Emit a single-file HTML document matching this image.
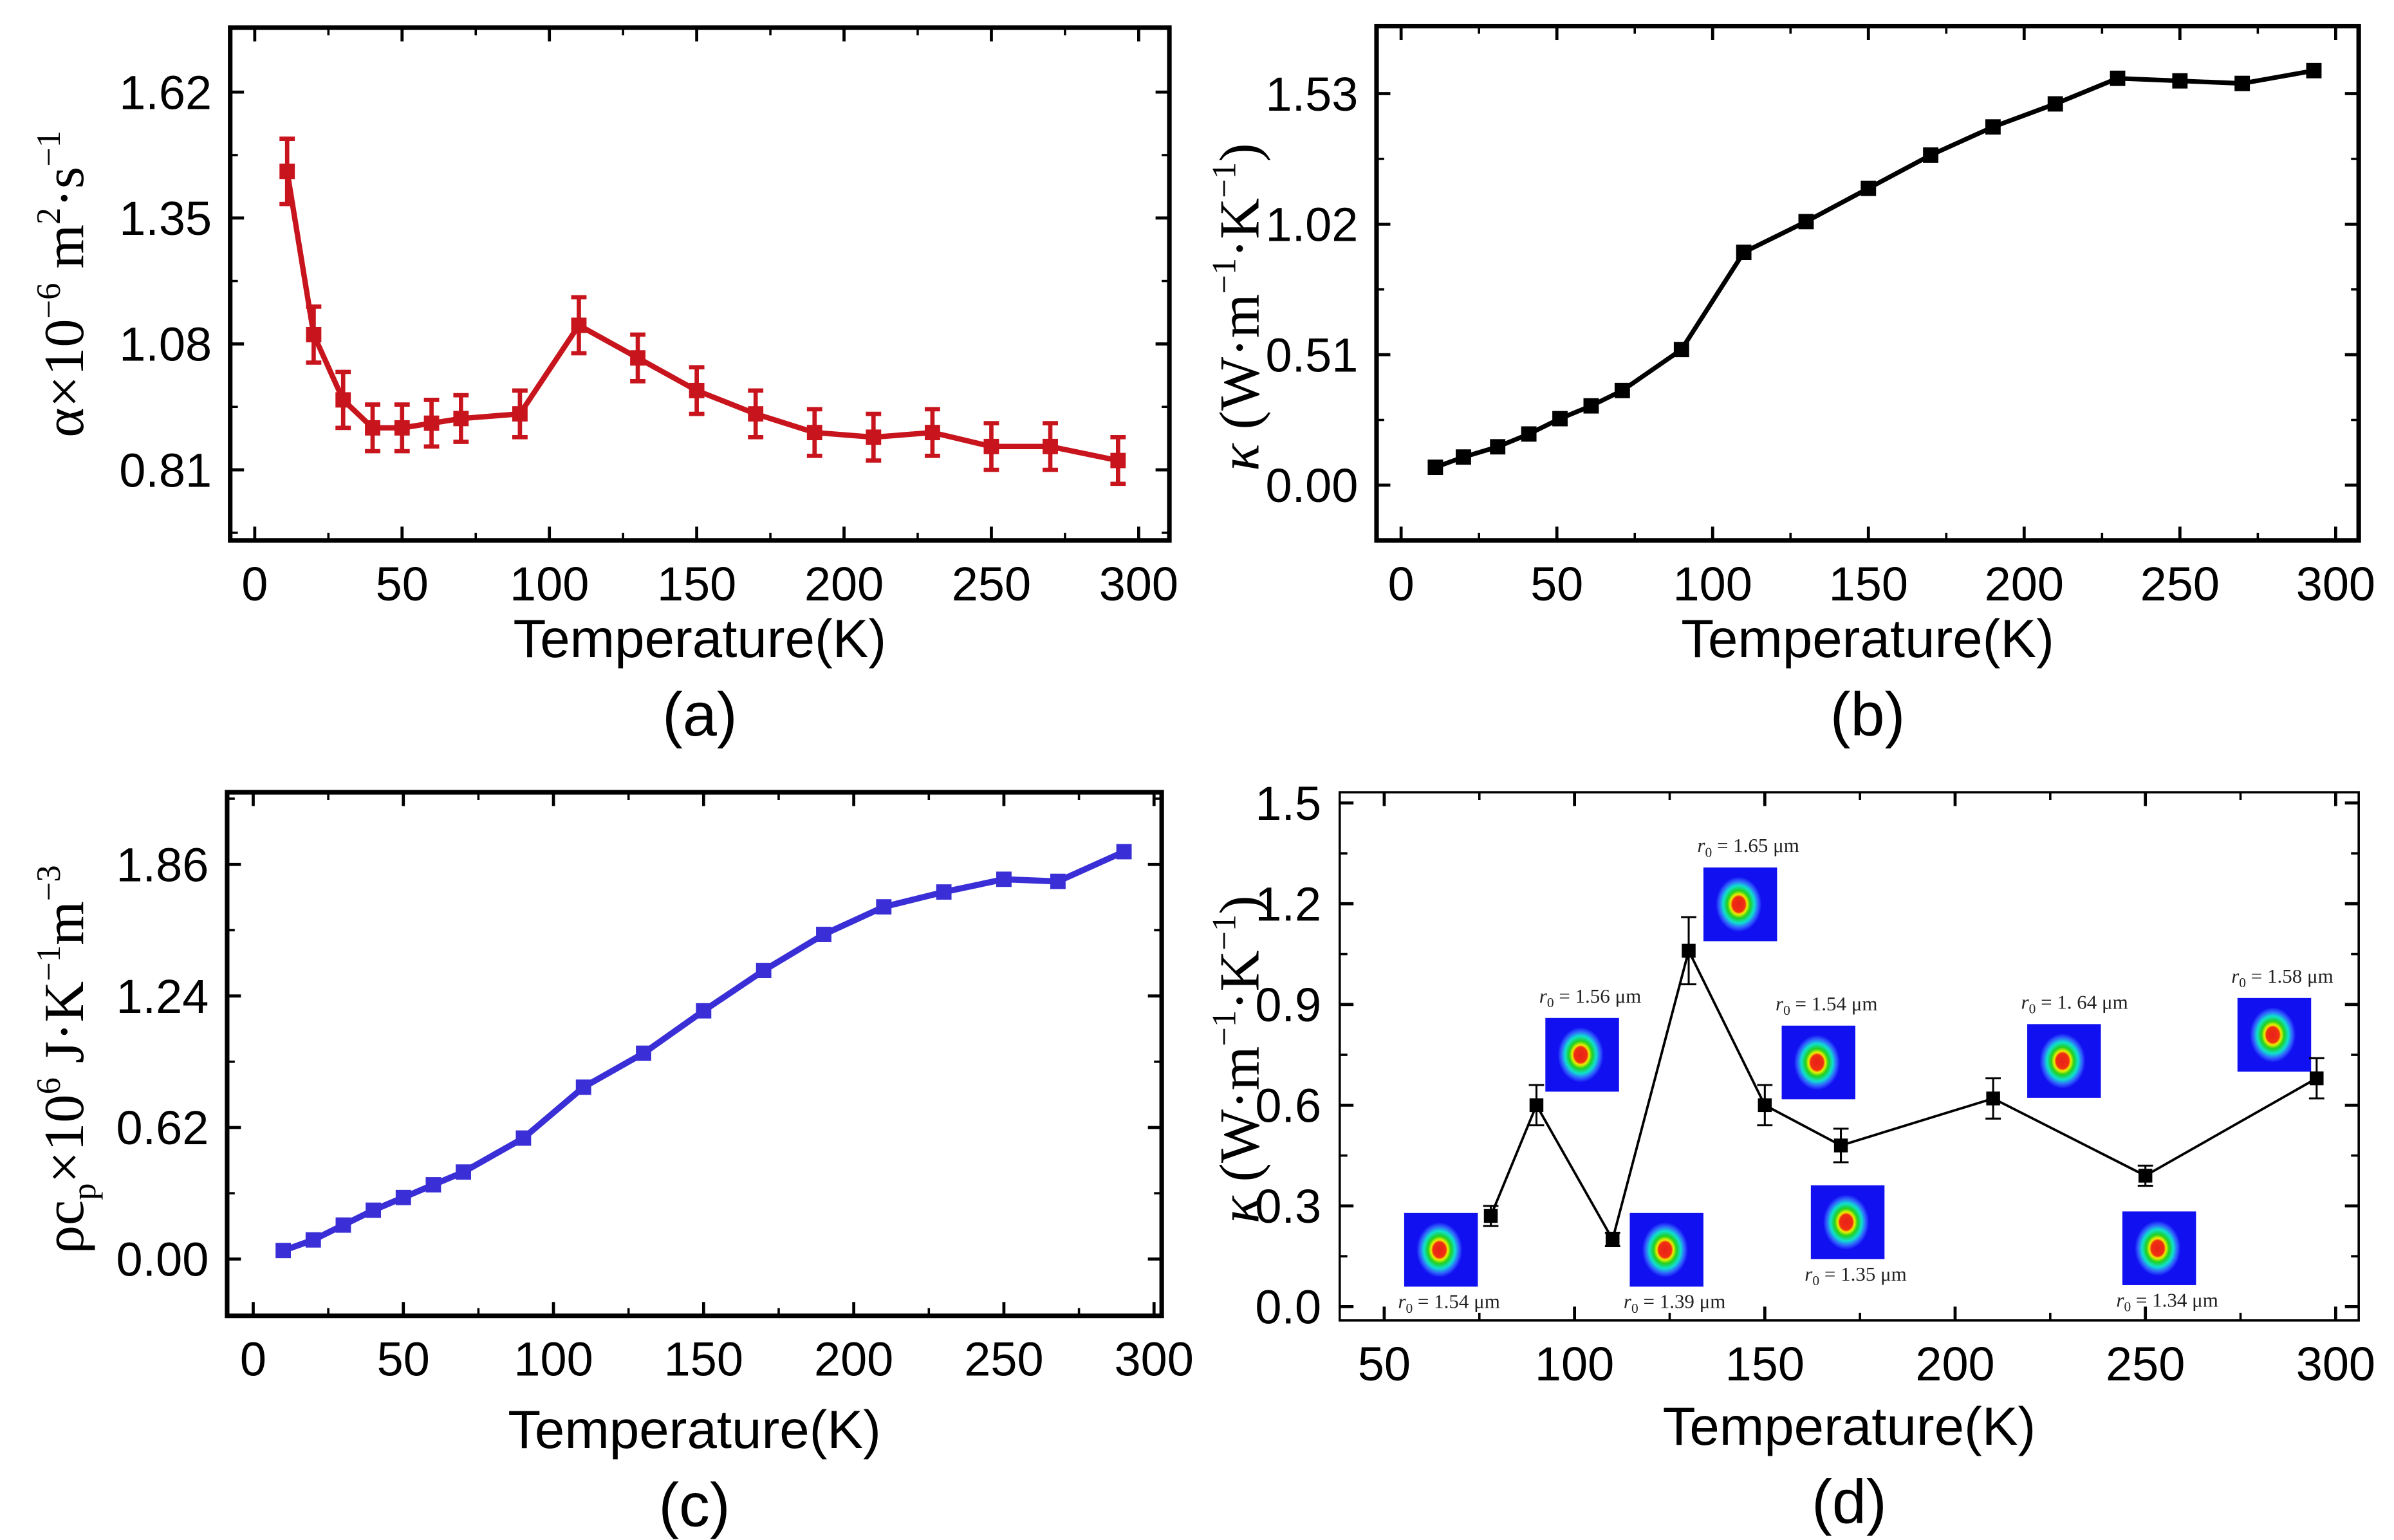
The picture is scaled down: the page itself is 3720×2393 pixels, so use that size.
<!DOCTYPE html>
<html><head><meta charset="utf-8">
<style>
html,body{margin:0;padding:0;background:#fff;}
svg{display:block;}
text{font-family:"Liberation Sans",Arial,sans-serif;}
.serif{font-family:"Liberation Serif","Times New Roman",serif;}
</style></head>
<body>
<svg id="fig" width="3720" height="2393" viewBox="0 0 1560 1003" preserveAspectRatio="none" xmlns="http://www.w3.org/2000/svg">
<defs>
<radialGradient id="spot" cx="50%" cy="50%" r="50%">
<stop offset="0" stop-color="#e8201a"/>
<stop offset="0.28" stop-color="#f03010"/>
<stop offset="0.36" stop-color="#f0f000"/>
<stop offset="0.5" stop-color="#20d020"/>
<stop offset="0.68" stop-color="#10e0d0"/>
<stop offset="0.85" stop-color="#3060ff"/>
<stop offset="1" stop-color="#1010f0"/>
</radialGradient>
</defs>
<g id="root"></g>
</svg>
<script>
// ---- Panel (a) data ----
const aTemps = [11,20,30,40,50,60,70,90,110,130,150,170,190,210,230,250,270,293];
const aVals  = [1.45,1.10,0.96,0.90,0.90,0.91,0.92,0.93,1.12,1.05,0.98,0.93,0.89,0.88,0.89,0.86,0.86,0.83];
const aErr   = [0.07,0.06,0.06,0.05,0.05,0.05,0.05,0.05,0.06,0.05,0.05,0.05,0.05,0.05,0.05,0.05,0.05,0.05];
const aYTicks = [0.81,1.08,1.35,1.62];
// ---- Panel (b) data ----
const bTemps = [11,20,31,41,51,61,71,90,110,130,150,170,190,210,230,250,270,293];
const bVals  = [0.07,0.11,0.15,0.20,0.26,0.31,0.37,0.53,0.91,1.03,1.16,1.29,1.40,1.49,1.59,1.58,1.57,1.62];
const bYTicks = [0.00,0.51,1.02,1.53];
// ---- Panel (c) data ----
const cTemps = [10,20,30,40,50,60,70,90,110,130,150,170,190,210,230,250,268,290];
const cVals  = [0.04,0.09,0.16,0.23,0.29,0.35,0.41,0.57,0.81,0.97,1.17,1.36,1.53,1.66,1.73,1.79,1.78,1.92];
const cYTicks = [0.00,0.62,1.24,1.86];
// ---- Panel (d) data ----
const dTemps = [78,90,110,130,150,170,210,250,295];
const dVals  = [0.27,0.60,0.20,1.06,0.60,0.48,0.62,0.39,0.68];
const dErr   = [0.03,0.06,0.02,0.10,0.06,0.05,0.06,0.03,0.06];
const dYTicks = [0.0,0.3,0.6,0.9,1.2,1.5];
const dInsetLabels = ["1.54","1.56","1.39","1.65","1.54","1.35","1. 64","1.34","1.58"];
const dInsetBoxes = [[915,790,"below"],[1007,663,"above"],[1062,790,"below"],[1110,565,"above"],[1161,668,"above"],[1180,772,"below"],[1321,667,"above"],[1383,789,"below"],[1458,650,"above"]];
const xTicks300 = [0,50,100,150,200,250,300];
const xTicksD = [50,100,150,200,250,300];

const NS="http://www.w3.org/2000/svg";
const root=document.getElementById('root');
function mk(tag,attrs,parent){const e=document.createElementNS(NS,tag);for(const k in attrs)e.setAttribute(k,attrs[k]);(parent||root).appendChild(e);return e;}
function lin(d0,d1,r0,r1){return v=>r0+(v-d0)*(r1-r0)/(d1-d0);}

function panel(o){
  const g=mk('g',{});
  
  
  const fr=mk('rect',{x:o.L,y:o.T,width:o.R-o.L,height:o.B-o.T,fill:'none',stroke:'#000','stroke-width':o.frameW||3},g);
  
  
  const xs=o.xs, ys=o.ys;
  const step=o.xTicks[1]-o.xTicks[0];
  for(let i=0;i<o.xTicks.length;i++){
    const v=o.xTicks[i], px=xs(v);
    mk('line',{x1:px,y1:o.B,x2:px,y2:o.B-9,stroke:'#000','stroke-width':2},g);
    mk('line',{x1:px,y1:o.T,x2:px,y2:o.T+9,stroke:'#000','stroke-width':2},g);
    const t=mk('text',{x:px,y:o.B+39,'text-anchor':'middle','font-size':31,fill:'#000'},g);
    t.textContent=v;
    
    
    if(i<o.xTicks.length-1){const m=xs(v+step/2);
      mk('line',{x1:m,y1:o.B,x2:m,y2:o.B-5,stroke:'#000','stroke-width':1.5},g);
      mk('line',{x1:m,y1:o.T,x2:m,y2:o.T+5,stroke:'#000','stroke-width':1.5},g);}
  }
  const ystep=o.yTicks[1]-o.yTicks[0];
  for(let i=0;i<o.yTicks.length;i++){
    const v=o.yTicks[i], py=ys(v);
    mk('line',{x1:o.L,y1:py,x2:o.L+9,y2:py,stroke:'#000','stroke-width':2},g);
    mk('line',{x1:o.R,y1:py,x2:o.R-9,y2:py,stroke:'#000','stroke-width':2},g);
    const t=mk('text',{x:o.L-12,y:py+11,'text-anchor':'end','font-size':31,fill:'#000'},g);
    t.textContent=v.toFixed(o.yDec);
    
    
    for(const m of [v-ystep/2,v+ystep/2]){const pm=ys(m); if(pm>o.T+4&&pm<o.B-4&&(i==0||m>v)){
      mk('line',{x1:o.L,y1:pm,x2:o.L+5,y2:pm,stroke:'#000','stroke-width':1.5},g);
      mk('line',{x1:o.R,y1:pm,x2:o.R-5,y2:pm,stroke:'#000','stroke-width':1.5},g);}}
  }
  const xt=mk('text',{x:(o.L+o.R)/2,y:o.xtY,'text-anchor':'middle','font-size':35,fill:'#000'},g);
  xt.textContent='Temperature(K)';
  
  
  const pl=mk('text',{x:(o.L+o.R)/2,y:o.plY,'text-anchor':'middle','font-size':40,fill:'#000'},g);
  pl.textContent=o.label;
  
  
  return g;
}

function series(g,temps,vals,errs,xs,ys,color,lw,ms,eb,nm){
  const pts=temps.map((t,i)=>xs(t)+','+ys(vals[i])).join(' ');
  const p=mk('polyline',{points:pts,fill:'none',stroke:color,'stroke-width':lw,'stroke-linejoin':'round'},g);
  
  
  for(let i=0;i<temps.length;i++){
    const x=xs(temps[i]),y=ys(vals[i]);
    if(errs){const y1=ys(vals[i]+errs[i]),y2=ys(vals[i]-errs[i]);
      const e=mk('path',{d:`M${x},${y1}V${y2}M${x-eb},${y1}H${x+eb}M${x-eb},${y2}H${x+eb}`,stroke:color,'stroke-width':lw*0.8,fill:'none'},g);
      
      }
    const r=mk('rect',{x:x-ms/2,y:y-ms/2,width:ms,height:ms,fill:color},g);
    
    
  }
}

{const o={name:'panel-a',L:150,R:762,T:18,B:352,xTicks:xTicks300,yTicks:aYTicks,yDec:2,xtY:428,plY:479,label:'(a)'};
 o.xs=lin(0,300,166,742); o.ys=lin(0.81,1.62,306,60);
 const g=panel(o); series(g,aTemps,aVals,aErr,o.xs,o.ys,'#c8141c',3.5,10,5,'alpha');}
{const o={name:'panel-b',L:897,R:1537,T:17,B:352,xTicks:xTicks300,yTicks:bYTicks,yDec:2,xtY:428,plY:479,label:'(b)'};
 o.xs=lin(0,300,913,1522); o.ys=lin(0,1.53,316,61);
 const g=panel(o); series(g,bTemps,bVals,null,o.xs,o.ys,'#000',3,10,0,'kappa');}
{const o={name:'panel-c',L:148,R:757,T:516,B:857,xTicks:xTicks300,yTicks:cYTicks,yDec:2,xtY:943,plY:994,label:'(c)'};
 o.xs=lin(0,300,165,752); o.ys=lin(0,1.86,820,563);
 const g=panel(o); series(g,cTemps,cVals,null,o.xs,o.ys,'#3a2ed6',4,10,0,'heat-capacity');}
{const o={name:'panel-d',L:873,R:1537,T:516,B:860,xTicks:xTicksD,yTicks:dYTicks,yDec:1,xtY:941,plY:992,label:'(d)',frameW:1.5};
 o.xs=lin(50,300,902,1522); o.ys=lin(0,1.5,851,523);
 const g=panel(o);
 for(let i=0;i<dInsetBoxes.length;i++){
   const [bx,by,pos]=dInsetBoxes[i];
   const ig=mk('g',{},g);
   
   
   mk('rect',{x:bx,y:by,width:48,height:48,fill:'#1010f0'},ig);
   mk('ellipse',{cx:bx+23,cy:by+24,rx:15,ry:18,fill:'url(#spot)'},ig);
   const ty=pos==='above'?by-10:by+62;
   const t=mk('text',{x:bx-4,y:ty,'font-size':13,fill:'#222',class:'serif'},ig);
   t.innerHTML='<tspan font-style="italic">r</tspan><tspan font-size="9" dy="3">0</tspan><tspan dy="-3"> = '+dInsetLabels[i]+' μm</tspan>';
   
   
 }
 series(g,dTemps,dVals,dErr,o.xs,o.ys,'#000',1.6,9,5,'kappa-d');}

function ytitle(x,y,html,name){const t=mk('text',{x:x,y:y,'text-anchor':'middle','font-size':37,fill:'#000',class:'serif',transform:`rotate(-90 ${x} ${y})`});t.innerHTML=html;
 
 }
ytitle(54,185,'α×10<tspan font-size="22" dy="-15">−6</tspan><tspan dy="15"> m</tspan><tspan font-size="22" dy="-15">2</tspan><tspan dy="15">·s</tspan><tspan font-size="22" dy="-15">−1</tspan>','y-axis-title-a');
ytitle(820,200,'<tspan font-style="italic">κ</tspan> (W·m<tspan font-size="22" dy="-15">−1</tspan><tspan dy="15">·K</tspan><tspan font-size="22" dy="-15">−1</tspan><tspan dy="15">)</tspan>','y-axis-title-b');
ytitle(54,690,'ρc<tspan font-size="22" dy="8">p</tspan><tspan dy="-8">×10</tspan><tspan font-size="22" dy="-15">6</tspan><tspan dy="15"> J·K</tspan><tspan font-size="22" dy="-15">−1</tspan><tspan dy="15">m</tspan><tspan font-size="22" dy="-15">−3</tspan>','y-axis-title-c');
ytitle(820,690,'<tspan font-style="italic">κ</tspan> (W·m<tspan font-size="22" dy="-15">−1</tspan><tspan dy="15">·K</tspan><tspan font-size="22" dy="-15">−1</tspan><tspan dy="15">)</tspan>','y-axis-title-d');
</script>
</body></html>
